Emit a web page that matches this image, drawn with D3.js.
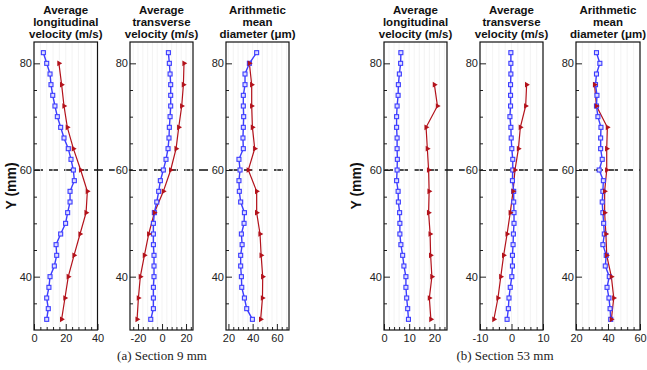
<!DOCTYPE html>
<html>
<head>
<meta charset="utf-8">
<script src="https://d3js.org/d3.v7.min.js"></script>
<style>
  body { margin: 0; background: #fff; }
  svg { font-family: 'Liberation Sans', Arial, sans-serif; }
  .tick text { fill: #222; font-size: 11px; }
  .halo .tick text { stroke: #fff; stroke-width: 3px; paint-order: stroke; }
  .caption { font-family: 'Liberation Serif', 'Times New Roman', serif; font-size: 13px; fill: #222; }
</style>
</head>
<body>
<script>
// Y positions (mm) of the measurement points
const yBlue = [82, 80, 78, 76, 74, 72, 70, 68, 66, 64, 62, 60, 58, 56, 54, 52, 50, 48, 46, 44, 42, 40, 38, 36, 34, 32];
const yRedA = [80, 76, 72, 68, 64, 60, 56, 52, 48, 44, 40, 36, 32];
const yRedB = [76, 72, 68, 64, 60, 56, 52, 48, 44, 40, 36, 32];

// (a) Section 9 mm
const longA_blue = [5.9, 8, 10.1, 10.7, 11.8, 13.2, 14.7, 16.8, 18.9, 21.6, 23.3, 24.8, 25.4, 22.7, 22.7, 21.2, 19.9, 16.8, 13.9, 14.3, 12.8, 10.1, 9.4, 8, 9, 8];
const longA_red = [15.7, 17.4, 18.9, 21, 24.8, 29.4, 33.6, 32.8, 29, 25.2, 21.6, 19.5, 17.4];
const tranA_blue = [5.3, 6.1, 6.7, 7.2, 7.2, 7.2, 6.7, 6.1, 5.8, 5, 3.3, 1.1, -1.4, -2.8, -4.4, -6.4, -7.2, -7.2, -7.2, -6.7, -6.7, -6.7, -7.2, -7.2, -7.2, -9.4];
const tranA_red = [18.3, 17.8, 16.4, 13.9, 11.7, 7.2, 1.1, -6.4, -11.1, -14.7, -18.1, -19.7, -20.8];
const diamA_blue = [43.3, 37.3, 33.7, 33.7, 32.3, 32.3, 32.6, 32.3, 32, 32.3, 28.7, 29.6, 28.7, 29, 30.1, 33.2, 32.9, 30.7, 31.3, 30.1, 30.1, 30.7, 31, 33.2, 35.1, 39.8];
const diamA_red = [37.3, 39.2, 39.2, 39.8, 41.7, 36.4, 43.3, 43.3, 46.1, 47, 48.3, 48.1, 46.6];

// (b) Section 53 mm
const longB_blue = [6.7, 6.6, 6.1, 5.7, 5.6, 5.2, 5, 5, 5.2, 5.2, 5.3, 5.2, 5, 5.6, 5.7, 6.2, 6.3, 6.3, 6.7, 7.4, 7.9, 8.7, 8.7, 9, 9.4, 9.7];
const longB_red = [20, 21.2, 16.7, 17.2, 17.7, 17.9, 17.7, 18.3, 18.5, 19, 18, 18.6];
const tranB_blue = [-0.2, -0.2, -0.2, -0.3, -0.3, -0.3, -0.5, -0.2, -0.1, 0.1, 0.4, 0.4, 0.3, 0.7, 0.7, 0.8, 0.8, 0.6, 0.5, 0.3, 0.3, 0.1, -0.4, -0.8, -1, -1.4];
const tranB_red = [4.8, 4.5, 2.8, 2.2, 1.1, 0.5, -0.4, -1.4, -2.5, -3.4, -4.3, -5.6];
const diamB_blue = [32.8, 34.9, 32.8, 32.2, 33.1, 32.8, 33.7, 35.6, 35.4, 35.4, 36.4, 34.5, 37.1, 36.8, 36.4, 36.8, 37.3, 37.7, 36.8, 38.9, 38.3, 40.8, 39.4, 40.6, 41.3, 41.7];
const diamB_red = [31.6, 32.8, 39.6, 39.2, 39.2, 37.9, 37.9, 38.7, 39.2, 42.1, 43.6, 42.1];

// titles and ticks
const titleLong = ["Average", "longitudinal", "velocity (m/s)"];
const titleTran = ["Average", "transverse", "velocity (m/s)"];
const titleDiam = ["Arithmetic", "mean", "diameter (\u03bcm)"];
const yTicks = [40, 60, 80];
const yMinor = [35, 45, 50, 55, 65, 70, 75];
const captions = ["(a) Section 9 mm", "(b) Section 53 mm"];

const W = 647, H = 370;
const svg = d3.select("body").append("svg").attr("width", W).attr("height", H);

const y = d3.scaleLinear().domain([30, 84]).range([330, 42]);

const groups = [
  { ylabelX: 11, caption: captions[0], capX: 162, panels: [
    { left: 34, right: 97.5, domain: [0, 40], ticks: [0, 20, 40], minor: 4, title: titleLong, blue: longA_blue, red: longA_red, yRed: yRedA },
    { left: 130, right: 193, domain: [-26.7, 25.8], ticks: [-20, 0, 20], minor: 4, title: titleTran, blue: tranA_blue, red: tranA_red, yRed: yRedA },
    { left: 226, right: 289, domain: [18, 70], ticks: [20, 40, 60], minor: 4, title: titleDiam, blue: diamA_blue, red: diamA_red, yRed: yRedA }
  ]},
  { ylabelX: 356, caption: captions[1], capX: 505, panels: [
    { left: 384, right: 447, domain: [0, 25], ticks: [0, 10, 20], minor: 2, title: titleLong, blue: longB_blue, red: longB_red, yRed: yRedB },
    { left: 480, right: 543, domain: [-10, 10], ticks: [-10, 0, 10], minor: 2, title: titleTran, blue: tranB_blue, red: tranB_red, yRed: yRedB },
    { left: 576, right: 640, domain: [20, 60], ticks: [20, 40, 60], minor: 4, title: titleDiam, blue: diamB_blue, red: diamB_red, yRed: yRedB }
  ]}
];

const blue = "#3d3dff", red = "#b3121b";

groups.forEach(grp => {
  const ps = grp.panels;

  // dashed reference line at Y = 60 (drawn first, labels sit on top)
  svg.append("line")
    .attr("x1", ps[0].left).attr("x2", ps[ps.length - 1].right)
    .attr("y1", y(60)).attr("y2", y(60))
    .attr("stroke", "#111").attr("stroke-width", 1.3)
    .attr("stroke-dasharray", "9,6");

  ps.forEach(p => {
    const x = d3.scaleLinear().domain(p.domain).range([p.left, p.right]);
    const g = svg.append("g");
    const minorVals = d3.range(Math.ceil(p.domain[0] / p.minor) * p.minor, p.domain[1] + 1e-9, p.minor)
      .filter(v => !p.ticks.includes(v));

    // faint vertical grid
    g.selectAll(".vgrid").data(minorVals.concat(p.ticks)).enter().append("line")
      .attr("x1", d => x(d)).attr("x2", d => x(d))
      .attr("y1", y.range()[1]).attr("y2", y.range()[0])
      .attr("stroke", "#f0f0f0").attr("stroke-width", 0.8);

    // x axis (inward ticks)
    const xa = g.append("g").attr("transform", `translate(0,${y.range()[0]})`)
      .call(d3.axisBottom(x).tickValues(p.ticks).tickFormat(d => String(d))
        .tickSizeInner(-6).tickSizeOuter(0).tickPadding(4));
    xa.select(".domain").remove();
    const xm = g.append("g").attr("transform", `translate(0,${y.range()[0]})`)
      .call(d3.axisBottom(x).tickValues(minorVals).tickSize(-3).tickFormat(""));
    xm.select(".domain").remove();

    // y axis
    const ya = g.append("g").attr("class", "halo").attr("transform", `translate(${p.left},0)`)
      .call(d3.axisLeft(y).tickValues(yTicks).tickSizeInner(-6).tickSizeOuter(0).tickPadding(2));
    ya.select(".domain").remove();
    const ym = g.append("g").attr("transform", `translate(${p.left},0)`)
      .call(d3.axisLeft(y).tickValues(yMinor).tickSize(-3).tickFormat(""));
    ym.select(".domain").remove();
    g.selectAll(".tick line").attr("stroke", "#222");

    // frame
    g.append("rect")
      .attr("x", p.left).attr("y", y.range()[1])
      .attr("width", p.right - p.left).attr("height", y.range()[0] - y.range()[1])
      .attr("fill", "none").attr("stroke", "#111").attr("stroke-width", 1.2);

    // series
    const line = d3.line().x(d => x(d[0])).y(d => y(d[1]));
    const bpts = p.blue.map((v, i) => [v, yBlue[i]]);
    const rpts = p.red.map((v, i) => [v, p.yRed[i]]);

    g.append("path").datum(rpts).attr("d", line)
      .attr("fill", "none").attr("stroke", red).attr("stroke-width", 1.2);
    g.append("path").datum(bpts).attr("d", line)
      .attr("fill", "none").attr("stroke", blue).attr("stroke-width", 1.4);

    g.selectAll(".bm").data(bpts).enter().append("rect")
      .attr("x", d => x(d[0]) - 2).attr("y", d => y(d[1]) - 2)
      .attr("width", 4).attr("height", 4)
      .attr("fill", "#dcdcff").attr("stroke", blue).attr("stroke-width", 1.1);
    g.selectAll(".rm").data(rpts).enter().append("path")
      .attr("d", d3.symbol().type(d3.symbolTriangle).size(14))
      .attr("transform", d => `translate(${x(d[0])},${y(d[1])}) rotate(90)`)
      .attr("fill", red);

    // title
    const cx = (p.left + p.right) / 2;
    p.title.forEach((t, i) => {
      svg.append("text").attr("x", cx).attr("y", 14 + i * 12)
        .attr("text-anchor", "middle").attr("font-weight", "bold")
        .attr("font-size", "11.5px").attr("fill", "#111").text(t);
    });
  });

  // y label
  svg.append("text")
    .attr("transform", `translate(${grp.ylabelX},${y(57)}) rotate(-90)`)
    .attr("text-anchor", "middle").attr("dy", "0.35em")
    .attr("font-weight", "bold").attr("font-size", "14px").attr("fill", "#111")
    .text("Y (mm)");

  svg.append("text").attr("class", "caption")
    .attr("x", grp.capX).attr("y", 360)
    .attr("text-anchor", "middle").text(grp.caption);
});
</script>
</body>
</html>
